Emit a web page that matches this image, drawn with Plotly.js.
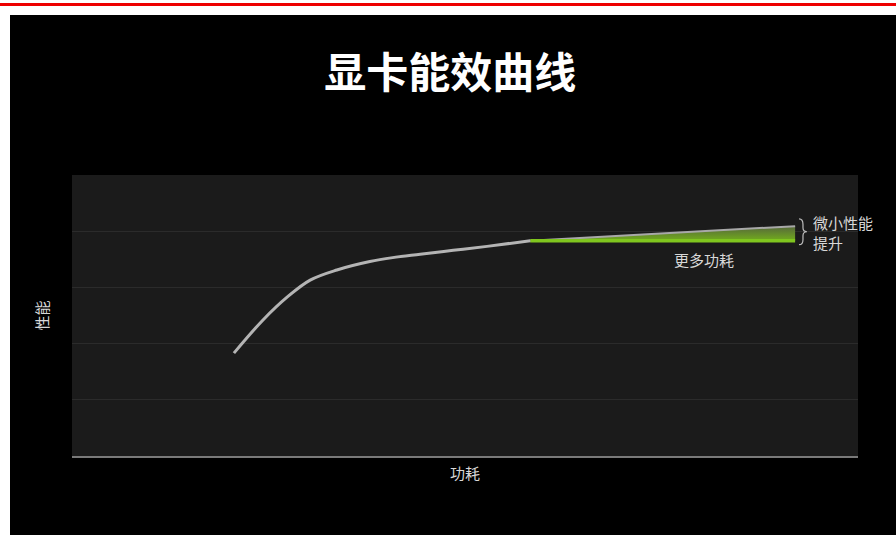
<!DOCTYPE html>
<html>
<head>
<meta charset="utf-8">
<script src="https://cdn.plot.ly/plotly-3.0.1.min.js"></script>
<style>
  html, body { margin: 0; padding: 0; background: #ffffff; width: 896px; height: 535px; overflow: hidden; }
  #topline { position: absolute; left: 0; top: 3px; width: 896px; height: 3px; background: #ee0000; }
  #chart { position: absolute; left: 10px; top: 15px; width: 886px; height: 520px; }
</style>
</head>
<body>
<div id="topline"></div>
<div id="chart"></div>
<script>
// Efficiency curve: performance rising with power draw, then flattening
const curvePower = [2.06, 2.43, 2.74, 3.03, 3.37, 3.79, 4.08, 4.43, 4.85, 5.28, 5.83];
const curvePerf  = [1.83, 2.42, 2.83, 3.13, 3.31, 3.46, 3.53, 3.59, 3.66, 3.73, 3.83];

// Upper edge of the wedge: the small performance gain past the knee
const gainPower = [5.83, 6.72, 7.99, 9.20];
const gainPerf  = [3.83, 3.90, 3.99, 4.09];

// Flat green baseline: extra power spent for that gain
const basePower = [5.83, 9.20];
const basePerf  = [3.83, 3.83];

const titleText = '显卡能效曲线';
const xTitle = '功耗';
const yTitle = '性能';
const gainLabel = ['微小性能', '提升'];
const powerLabel = '更多功耗';

const font = '"Noto Sans CJK SC", "Noto Sans", sans-serif';

const traces = [
  {
    x: basePower, y: basePerf, mode: 'lines',
    line: { color: '#7cc21f', width: 0 }, hoverinfo: 'skip', showlegend: false
  },
  {
    x: gainPower, y: gainPerf, mode: 'lines', fill: 'tonexty',
    fillcolor: 'rgba(100,140,40,0.9)',
    fillgradient: { type: 'vertical', colorscale: [[0, '#72ad1c'], [1, '#56663c']] },
    line: { color: '#a8a8a8', width: 2 }, hoverinfo: 'skip', showlegend: false
  },
  {
    x: basePower, y: basePerf, mode: 'lines',
    line: { color: '#80c61f', width: 3.5 }, hoverinfo: 'skip', showlegend: false
  },
  {
    x: curvePower, y: curvePerf, mode: 'lines',
    line: { color: '#b4b4b4', width: 3, shape: 'spline', smoothing: 1 },
    hoverinfo: 'skip', showlegend: false
  }
];

const labelFont = { family: font, size: 15, color: '#d8d8d8' };

const layout = {
  width: 886, height: 520,
  paper_bgcolor: '#000000',
  plot_bgcolor: '#1b1b1b',
  margin: { l: 62, r: 38, t: 160, b: 79 },
  title: {
    text: '<b>' + titleText + '</b>',
    font: { family: font, size: 42, color: '#ffffff' },
    x: 0.497, xanchor: 'center', y: 0.888, yanchor: 'middle', yref: 'container'
  },
  xaxis: {
    range: [0, 10], showgrid: false, zeroline: false, showticklabels: false, ticks: '',
    showline: true, linecolor: '#7a7a7a', linewidth: 2,
    title: { text: xTitle, font: { family: font, size: 15, color: '#d8d8d8' }, standoff: 11 }
  },
  yaxis: {
    range: [0, 5], dtick: 1, showgrid: true, gridcolor: '#2b2b2b', gridwidth: 1,
    zeroline: false, showticklabels: false, ticks: '', showline: false,
    title: { text: yTitle, font: { family: font, size: 15, color: '#d8d8d8' }, standoff: 18 }
  },
  shapes: [
    {
      type: 'path', xref: 'x', yref: 'y',
      path: 'M 9.25,4.22 Q 9.30,4.22 9.30,4.12 L 9.30,4.06 Q 9.30,3.99 9.35,3.99 Q 9.30,3.99 9.30,3.92 L 9.30,3.85 Q 9.30,3.76 9.25,3.76',
      line: { color: '#bdbdbd', width: 1.2 }
    }
  ],
  annotations: [
    { x: 9.41, y: 3.977, xref: 'x', yref: 'y', text: gainLabel.join('<br>'), showarrow: false,
      xanchor: 'left', yanchor: 'middle', align: 'left', font: labelFont, borderpad: 0 },
    { x: 8.04, y: 3.49, xref: 'x', yref: 'y', text: powerLabel, showarrow: false,
      xanchor: 'center', yanchor: 'middle', font: labelFont }
  ]
};

Plotly.newPlot('chart', traces, layout, { staticPlot: true, displayModeBar: false });
</script>
</body>
</html>
